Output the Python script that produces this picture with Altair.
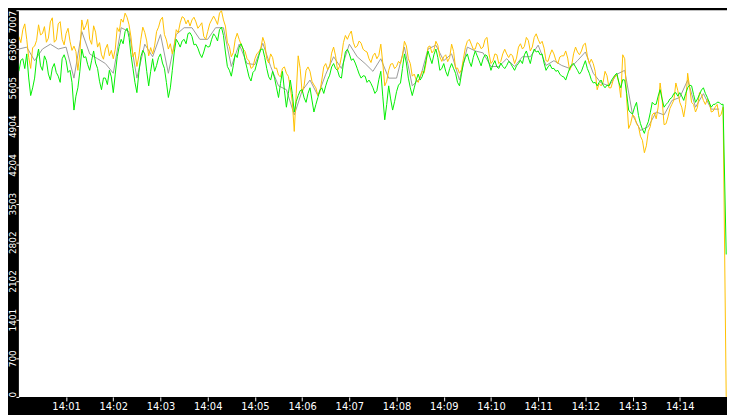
import altair as alt
import pandas as pd

STEP = 5  # seconds between main samples, starting at 14:00:00

orange = [
    6532, 6655, 6480, 5953, 6357, 6743, 6585, 6427, 6796, 6427, 6761, 6480, 6585, 6444, 6357, 5918,
    6831, 6725, 6480, 6725, 6339, 6199, 6304, 6181, 6128, 6690, 6848, 6954, 6743, 6164, 5988, 6480,
    6603, 6181, 6216, 6620, 6831, 6567, 6304, 6216, 6655, 6778, 6866, 6831, 6831, 6796, 6725,
    6532, 6620, 6831, 6831, 6954, 6831, 6427, 6164, 6480, 6480, 6304, 6128, 5953, 6128, 6251,
    6515, 6128, 6216, 5953, 5830, 5953, 5865, 5602, 4811, 6181, 5514, 5918, 5900, 5654, 5461,
    5742, 6041, 5988, 6339, 5918, 6164, 6550, 6567, 6427, 6357, 6409, 6269, 6128, 6181, 6128,
    6392, 5637, 5918, 6041, 5988, 6041, 6444, 6128, 5812, 5742, 5812, 5865, 6339, 6234, 6444,
    6164, 6164, 6076, 6392, 5953, 5865, 6128, 6444, 6392, 6304, 6392, 6339, 6515, 6041, 6216,
    6041, 6216, 6216, 6216, 6041, 6339, 6304, 6515, 6269, 6515, 6480, 6444, 6093, 6199, 6216,
    6041, 6181, 6269, 5918, 6216, 6251, 6269, 6409, 6041, 6041, 5567, 5637, 5900, 5602, 5725,
    5830, 5426, 6128, 4864, 5110, 4952, 4724, 4425, 4811, 5110, 5040, 5689, 4934, 5075, 5303,
    5689, 5338, 5075, 5865, 5338, 5163, 5514, 5373, 5391, 5163, 5250, 5075, 5250, 0,
]
# values half-way (2.5 s) between consecutive main samples
orange_mid = [
    6420, 6760, 6150, 6330, 6460, 6560, 6710, 6500, 6870, 6470, 6800, 6380, 6680, 6280, 6260, 6230,
    6650, 6840, 6390, 6610, 6420, 6120, 6390, 6280, 6300, 6620, 6790, 6880, 6520, 6250, 6180, 6700,
    6450, 6330, 6360, 6700, 6880, 6470, 6400, 6350, 6600, 6890, 6760, 6720, 6880, 6680, 6780, 6480,
    6760, 6900, 6750, 7000, 6720, 6350, 6240, 6590, 6380, 6260, 6090, 5980, 6220, 6320, 6410, 6050,
    6150, 5960, 5800, 5980, 5810, 5350, 5500, 5950, 5640, 5980, 5720, 5600, 5520, 5980, 5930, 6230,
    6180, 5990, 6420, 6480, 6630, 6330, 6450, 6300, 6250, 6060, 6230, 6190, 6050, 5720, 6030, 5950,
    6080, 6180, 6360, 6040, 5850, 5700, 5900, 6050, 6360, 6280, 6370, 6080, 6200, 6150, 6260, 5960,
    5930, 6330, 6480, 6300, 6420, 6310, 6480, 6220, 6090, 6200, 6080, 6300, 6150, 6180, 6140, 6400,
    6350, 6460, 6340, 6580, 6400, 6320, 6080, 6290, 6100, 6160, 6180, 6140, 6000, 6340, 6200, 6380,
    6180, 6120, 5900, 5680, 5700, 5820, 5600, 5820, 5700, 6200, 5400, 4950, 5080, 4900, 4650, 4550,
    4900, 5150, 5250, 5400, 4950, 5230, 5380, 5550, 5250, 5300, 5600, 5300, 5250, 5480, 5300, 5350,
    5180, 5300, 5120,
]

green = [
    5900, 6128, 6216, 5461, 5777, 6304, 5918, 6093, 5742, 6041, 5812, 6128, 6093, 5918, 5198, 5602,
    6304, 6164, 5918, 6269, 5953, 5567, 5777, 5918, 5514, 6164, 6480, 6620, 6515, 5953, 5514, 6164,
    6216, 5637, 6128, 6006, 6216, 5953, 5426, 5918, 6480, 6339, 6480, 6585, 6532, 6392, 6216,
    6251, 6339, 6480, 6532, 6655, 6550, 5988, 5812, 6216, 6339, 6304, 5953, 5725, 5918, 6181,
    6304, 5953, 5742, 5777, 5426, 5900, 5250, 5742, 5163, 5461, 5567, 5338, 5602, 5163, 5426,
    5602, 5637, 5830, 6041, 5918, 5777, 6251, 6216, 6128, 5953, 5777, 5812, 5742, 5602, 5549,
    5900, 5022, 5637, 5198, 5531, 5689, 6216, 5777, 5461, 5742, 5742, 5918, 6269, 6041, 6304,
    5918, 6041, 5812, 6041, 5865, 5637, 6041, 6216, 5988, 6269, 6093, 6128, 6181, 5918, 6093,
    5953, 5988, 6006, 6041, 5918, 6041, 6041, 6269, 6041, 6304, 6269, 6216, 5918, 6023, 5953,
    5918, 5812, 5742, 5953, 6041, 5918, 5900, 6093, 5865, 5689, 5637, 5742, 5602, 5637, 5777,
    5865, 5602, 5742, 5198, 5128, 5338, 4952, 4776, 4987, 5338, 5303, 5567, 5250, 5338, 5426,
    5514, 5514, 5373, 5602, 5637, 5338, 5479, 5602, 5426, 5250, 5303, 5338, 5303, 2581,
]
green_mid = [
    6100, 5950, 5780, 5600, 6120, 6000, 6180, 5850, 5960, 5880, 5700, 6200, 5880, 5700, 5450, 5900,
    6150, 6020, 6100, 6050, 5720, 5780, 5660, 5800, 5850, 6350, 6400, 6680, 6200, 5700, 5880, 6280,
    5900, 5900, 5900, 6150, 6050, 5700, 5600, 6250, 6420, 6450, 6400, 6600, 6380, 6320, 6150, 6380,
    6350, 6580, 6450, 6700, 6250, 5920, 6000, 6150, 6400, 6100, 5800, 5880, 6050, 6300, 6150, 5800,
    5900, 5600, 5680, 5550, 5500, 5500, 5350, 5550, 5420, 5500, 5380, 5300, 5550, 5500, 5750, 5980,
    5950, 5800, 6050, 6300, 6100, 6050, 5850, 5820, 5700, 5680, 5500, 5750, 5450, 5300, 5400, 5350,
    5650, 5950, 6050, 5600, 5600, 5850, 5800, 6100, 6150, 6200, 6150, 5950, 5900, 5950, 5950, 5700,
    5850, 6150, 6080, 6150, 6180, 6000, 6200, 6050, 6020, 5980, 6050, 5950, 6080, 5980, 6000, 6100,
    6200, 6150, 6200, 6250, 6200, 6050, 5980, 5950, 5900, 5850, 5800, 5850, 6020, 5980, 5850, 6000,
    5950, 5750, 5700, 5700, 5650, 5650, 5720, 5830, 5700, 5750, 5500, 5150, 5250, 5100, 4850, 4900,
    5150, 5300, 5450, 5400, 5300, 5400, 5500, 5450, 5450, 5500, 5650, 5480, 5400, 5560, 5500, 5330,
    5300, 5340, 5300,
]

GRAY_STEP = 10
gray = [
    6304, 6339, 6093, 6304, 6392, 6304, 6339, 5777, 6620, 6216, 6128, 6041, 5865, 6690, 6620,
    5777, 6392, 6164, 6567, 5865, 6567, 6690, 6690, 6480, 6480, 6690, 6690, 5988, 6392, 6041,
    6023, 6409, 5988, 5637, 5567, 5110, 5549, 5742, 5461, 5847, 6164, 5953, 6392, 6164, 6041,
    5900, 6128, 5777, 5777, 6339, 5637, 5777, 6304, 6374, 6093, 6216, 5742, 6339, 6269, 6234,
    5988, 5988, 6128, 5988, 6164, 6164, 6374, 6006, 6093, 6006, 5953, 6093, 6251, 5865, 5689,
    5637, 5847, 5918, 5110, 4829, 4899, 5163, 5110, 5373, 5426, 5742, 5250, 5496, 5215, 5215,
]

y_ticks = [0, 700.7, 1401.4, 2102.1, 2802.8, 3503.5, 4204.2, 4904.9, 5605.6, 6306.3, 7007]
x_ticks = [60 * m for m in range(1, 15)]


def build(main, mid):
    t, v = [], []
    for i, val in enumerate(main[:-1]):
        t.append(i * STEP)
        v.append(val)
        if i < len(mid):
            t.append(i * STEP + STEP / 2)
            v.append(mid[i])
    t.append(899)  # final sample just before 14:15
    v.append(main[-1])
    return pd.DataFrame({"t": t, "v": v})


df_o = build(orange, orange_mid)
df_g = build(green, green_mid)
df_k = pd.DataFrame({"t": [i * GRAY_STEP for i in range(len(gray))], "v": gray})

x_enc = alt.X(
    "t:Q",
    scale=alt.Scale(domain=[0, 900], nice=False, zero=False),
    axis=alt.Axis(
        values=x_ticks,
        labelExpr="'14:' + (datum.value / 60 < 10 ? '0' : '') + (datum.value / 60)",
        title=None,
        grid=False,
        domain=False,
        tickSize=4,
        labelPadding=1,
        labelFontSize=10,
    ),
)
y_enc = alt.Y(
    "v:Q",
    scale=alt.Scale(domain=[0, 7007], nice=False),
    axis=alt.Axis(
        values=y_ticks,
        labelExpr="floor(datum.value)",
        title=None,
        grid=False,
        domain=False,
        tickSize=3,
        labelAngle=270,
        labelAlign={
            "condition": [
                {"test": "datum.value >= 7000", "value": "right"},
                {"test": "datum.value <= 0", "value": "left"},
            ],
            "value": "center",
        },
        labelBaseline="alphabetic",
        labelPadding=0,
        labelFlush=False,
        labelFontSize=9,
    ),
)


def line(df, color):
    return alt.Chart(df).mark_line(color=color, strokeWidth=1, clip=True).encode(x=x_enc, y=y_enc)


chart = (
    alt.layer(line(df_k, "#9a9a9a"), line(df_o, "#ffc000"), line(df_g, "#00ee00"))
    .properties(
        width=716,
        height=391,
        background="black",
        padding={"left": 11, "top": 0, "right": 0, "bottom": 16},
        autosize=alt.AutoSizeParams(type="none"),
    )
    .configure_view(fill="white", stroke=None)
    .configure_axis(
        labelColor="white",
        tickColor="white",
        labelFont="DejaVu Sans",
    )
)

chart.save("out.html", embed_options={"renderer": "svg", "actions": False})
